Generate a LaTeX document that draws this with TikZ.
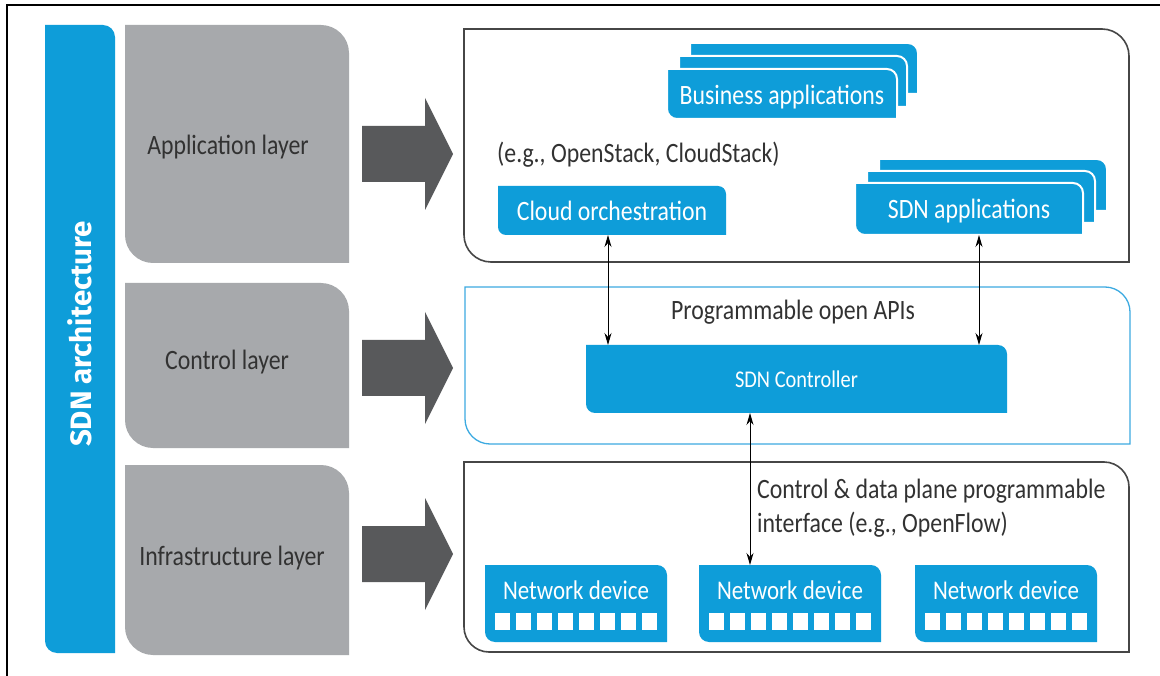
\documentclass[tikz,border=0pt]{standalone}
\usepackage{fontspec}
\setmainfont{Carlito}[FakeStretch=0.85]
\newfontfamily\titlefont{Fira Sans}
\usetikzlibrary{arrows.meta,backgrounds,calc}
\definecolor{hpblue}{RGB}{14,157,217}
\definecolor{laygray}{RGB}{167,169,172}
\definecolor{arrgray}{RGB}{88,89,91}
\definecolor{txtgray}{RGB}{50,50,50}
\definecolor{ctrlblue}{RGB}{60,170,225}
\definecolor{linegray}{RGB}{70,70,70}
% node covering the pixel area L,T,R,B (y measured downward)
\newcommand\areanode[7][]{\node[inner sep=0pt,outer sep=0pt,minimum width={(#5-#3)*1pt},minimum height={(#6-#4)*1pt},#1] (#2) at ({(#3+#5)/2},{(#4+#6)/2}) {#7};}
% shape with rounded top-right and bottom-left corners
\newcommand\hpshape[3][8]{%
 \path[#3] (#2.north west) -- ([xshift=-#1pt]#2.north east)
  .. controls ([xshift=-0.45*#1pt]#2.north east) and ([yshift=-0.45*#1pt]#2.north east) .. ([yshift=-#1pt]#2.north east)
  -- (#2.south east) -- ([xshift=#1pt]#2.south west)
  .. controls ([xshift=0.45*#1pt]#2.south west) and ([yshift=0.45*#1pt]#2.south west) .. ([yshift=#1pt]#2.south west)
  -- cycle;}
\newcommand\bigarrow[1]{\fill[arrgray] (362,{#1-28}) -- (425,{#1-28}) -- (425,{#1-56}) -- (453,#1) -- (425,{#1+56}) -- (425,{#1+28}) -- (362,{#1+28}) -- cycle;}
\tikzset{
 lbl/.style={text=txtgray,inner sep=0pt,font=\fontsize{28}{34}\selectfont},
 wlbl/.style={text=white,inner sep=0pt,font=\fontsize{28}{34}\selectfont},
 conn/.style={line width=1pt,{Stealth[length=12pt,width=7pt]}-{Stealth[length=12pt,width=7pt]}},
 cardfill/.style={fill=hpblue},
 backcard/.style={fill=hpblue,draw=white,line width=2pt},
}
\begin{document}
\begin{tikzpicture}[x=1pt,y=-1pt]
\useasboundingbox (0,0) rectangle (1160,676);
% frame
\draw[line width=2.5pt,line cap=rect] (7,676) -- (7,5) -- (1160,5);
% left column
\areanode{bar}{45}{25}{115}{653}{}
\node[rotate=90,text=white,inner sep=0pt,font=\titlefont\bfseries\fontsize{29.5}{32}\selectfont] (title) at (80,334) {SDN architecture};
\areanode{appgray}{125}{25}{349}{263}{}
\areanode{ctrlgray}{125}{283}{349}{448}{}
\areanode{infgray}{125}{465}{349}{655}{}
\node[lbl] (applbl) at (228,147) {Application layer};
\node[lbl] (ctrllbl) at (227,362) {Control layer};
\node[lbl] (inflbl) at (232,558) {Infrastructure layer};
\bigarrow{154}
\bigarrow{368}
\bigarrow{554}
% right boxes
\areanode{appbox}{464}{29}{1129}{262}{}
\areanode{ctrlbox}{465}{287}{1130}{444}{}
\areanode{infbox}{464}{462}{1129}{652}{}
% application layer content
\areanode{biz3}{690}{43}{918}{94}{}
\areanode{biz2}{679}{56}{907}{107}{}
\areanode{biz}{667}{69}{897}{119}{}
\node[wlbl] (biztxt) at (782,97) {Business applications};
\node[lbl,anchor=west] (eg) at (497,155) {(e.g., OpenStack, CloudStack)};
\areanode[wlbl]{cloud}{498}{186}{726}{235}{Cloud orchestration}
\areanode{sdn3}{879}{159}{1107}{211}{}
\areanode{sdn2}{867}{171}{1095}{223}{}
\areanode{sdnapp}{855}{183}{1083}{235}{}
\node[wlbl] (sdntxt) at (969,211) {SDN applications};
% control layer content
\node[lbl] (apis) at (793,312) {Programmable open APIs};
\areanode[wlbl,font=\fontsize{24}{28}\selectfont]{ctrl}{586}{345}{1007}{413}{SDN Controller}
% infrastructure content
\node[lbl,anchor=west,align=left] (ofl) at (757,508) {Control \& data plane programmable\\interface (e.g., OpenFlow)};
\areanode{nd1}{485}{565}{667}{642}{}
\areanode{nd2}{699}{565}{881}{642}{}
\areanode{nd3}{915}{565}{1097}{642}{}
\node[wlbl,font=\fontsize{27}{30}\selectfont] (nd1t) at (576,590) {Network device};
\node[wlbl,font=\fontsize{27}{30}\selectfont] (nd2t) at (790,590) {Network device};
\node[wlbl,font=\fontsize{27}{30}\selectfont] (nd3t) at (1006,590) {Network device};
\foreach \n in {nd1,nd2,nd3}{
  \foreach \i in {0,...,7}{
    \fill[white] ([xshift={(10+21*\i)*1pt},yshift=-48pt]\n.north west) rectangle ++(15,17);
  }
}
% background shapes
\begin{scope}[on background layer]
\fill[white] (0,0) rectangle (1160,676);
\hpshape[12]{bar}{fill=hpblue}
\hpshape[28]{appgray}{fill=laygray}
\hpshape[28]{ctrlgray}{fill=laygray}
\hpshape[28]{infgray}{fill=laygray}
\hpshape[27]{appbox}{draw=linegray,line width=1.6pt}
\hpshape[25]{ctrlbox}{draw=ctrlblue,line width=1.3pt}
\hpshape[25]{infbox}{draw=linegray,line width=1.6pt}
\hpshape[10]{biz3}{backcard}
\hpshape[10]{biz2}{backcard}
\hpshape[10]{biz}{backcard}
\hpshape[8]{cloud}{cardfill}
\hpshape[10]{sdn3}{backcard}
\hpshape[10]{sdn2}{backcard}
\hpshape[10]{sdnapp}{backcard}
\hpshape[9]{ctrl}{cardfill}
\hpshape[10]{nd1}{cardfill}
\hpshape[10]{nd2}{cardfill}
\hpshape[10]{nd3}{cardfill}
\end{scope}
% connectors
\draw[conn] ([xshift=-4pt]cloud.south) -- ([xshift=-4pt]cloud.south |- ctrl.north);
\draw[conn] ([xshift=10pt]sdnapp.south) -- ([xshift=10pt]sdnapp.south |- ctrl.north);
\draw[conn] ([xshift=-46.5pt]ctrl.south) -- ([xshift=-46.5pt]ctrl.south |- nd2.north);
\end{tikzpicture}
\end{document}
